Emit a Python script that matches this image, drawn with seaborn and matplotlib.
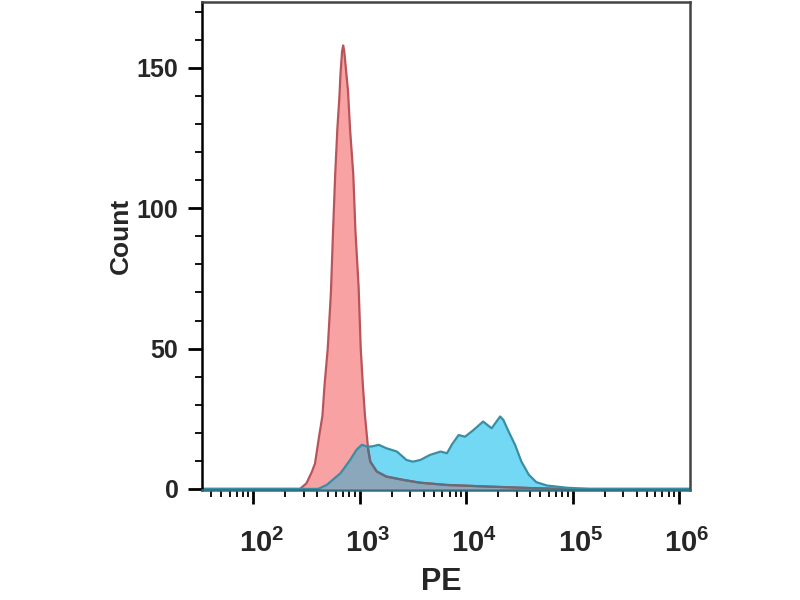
import numpy as np
import matplotlib
matplotlib.use("Agg")
import matplotlib.pyplot as plt
import matplotlib.ticker as mticker
import matplotlib.transforms as mtransforms
import seaborn as sns

# Histogram outlines: log10(PE) positions and counts
red_log = [1.50, 2.44, 2.47, 2.50, 2.55, 2.58, 2.60, 2.62, 2.65, 2.67, 2.70, 2.73, 2.75,
           2.77, 2.79, 2.81, 2.82, 2.835, 2.845, 2.855, 2.87, 2.89, 2.91, 2.94, 2.96, 2.99,
           3.01, 3.03, 3.05, 3.07, 3.08, 3.10, 3.16, 3.25, 3.41, 3.57, 3.82, 4.23,
           4.60, 4.88, 6.10]
red_count = [0, 0, 1, 2, 6, 9, 14, 19, 26, 37, 50, 70, 92,
             112, 128, 140, 148, 156, 158, 156, 150, 142, 128, 112, 92, 72,
             50, 37, 26, 18, 14, 9.7, 6.2, 4.4, 3.2, 2.2, 1.4, 0.8,
             0.3, 0, 0]

blue_log = [1.50, 2.61, 2.69, 2.82, 2.91, 2.97, 3.02, 3.07, 3.11, 3.18, 3.25, 3.35,
            3.44, 3.50, 3.57, 3.66, 3.76, 3.82, 3.87, 3.93, 3.99, 4.07, 4.16, 4.24,
            4.32, 4.35, 4.40, 4.46, 4.52, 4.59, 4.66, 4.76, 4.95, 5.16, 6.10]
blue_count = [0, 0, 1.4, 5.6, 10.3, 13.9, 15.7, 15.1, 15.1, 15.7, 14.5, 13.3,
              10.3, 9.7, 10.3, 12.1, 13.3, 12.7, 16, 19.2, 18.6, 21, 24, 21.6,
              25.8, 24.6, 20.4, 15.7, 9.7, 5, 2.4, 1.2, 0.4, 0, 0]

x_ticks = [1e2, 1e3, 1e4, 1e5, 1e6]
x_ticklabels = [r"$\mathbf{10^{2}}$", r"$\mathbf{10^{3}}$", r"$\mathbf{10^{4}}$",
                r"$\mathbf{10^{5}}$", r"$\mathbf{10^{6}}$"]
y_ticks = [0, 50, 100, 150]

red_pe = np.power(10.0, red_log)
blue_pe = np.power(10.0, blue_log)

sns.set_style("white")
plt.rcParams["font.family"] = ["Liberation Sans", "DejaVu Sans"]
plt.rcParams["mathtext.fontset"] = "custom"
plt.rcParams["mathtext.bf"] = "Liberation Sans:bold"
plt.rcParams["mathtext.rm"] = "Liberation Sans:bold"

fig = plt.figure(figsize=(8, 6), dpi=100)
ax = fig.add_axes([0.2525, 0.1833, 0.61, 0.8134])
ax.set_xscale("log")

# fills: cyan sample, pink control, and the grey overlap clipped to the cyan area
blue_fill = ax.fill_between(blue_pe, blue_count, color="#72d8f4", lw=0, zorder=1)
ax.fill_between(red_pe, red_count, color="#f8a2a4", lw=0, zorder=1.1)
overlap = ax.fill_between(red_pe, red_count, color="#8ba7bb", lw=0, zorder=1.2)
blue_path = blue_fill.get_paths()[0]
overlap.set_clip_path(blue_path, blue_fill.get_transform())

sns.lineplot(x=red_pe, y=red_count, ax=ax, color="#b9545a", lw=1.6, zorder=2)
# the control outline looks dark grey where it runs inside the cyan area
sns.lineplot(x=red_pe, y=red_count, ax=ax, color="#5d6f7e", lw=1.6, zorder=2.05)
ax.lines[-1].set_clip_path(blue_path, blue_fill.get_transform())
sns.lineplot(x=blue_pe, y=blue_count, ax=ax, color="#3a8ea3", lw=1.6, zorder=2.1)

ax.set_xlim(33, 1.27e6)
ax.set_ylim(-0.4, 173.5)

ax.set_xticks(x_ticks)
ax.set_xticklabels(x_ticklabels)
ax.xaxis.set_minor_locator(mticker.LogLocator(base=10, subs=np.arange(2, 10), numticks=20))
ax.xaxis.set_minor_formatter(mticker.NullFormatter())
ax.set_yticks(y_ticks)
ax.yaxis.set_minor_locator(mticker.MultipleLocator(10))

ax.tick_params(axis="both", which="major", direction="out", length=10, width=2,
               color="black", labelsize=18, bottom=True, left=True)
ax.tick_params(axis="both", which="minor", direction="out", length=5, width=1.3,
               color="black", bottom=True, left=True)
ax.tick_params(axis="x", which="major", pad=18, labelsize=21)
ax.tick_params(axis="y", which="major", pad=7)
for lab in ax.get_yticklabels():
    lab.set_fontweight("bold")

# centre the "10" on the tick, the exponent hangs to the right
shift = mtransforms.ScaledTranslation(0.08, 0, fig.dpi_scale_trans)
for lab in ax.get_xticklabels():
    lab.set_transform(lab.get_transform() + shift)

for side in ["top", "right", "bottom", "left"]:
    ax.spines[side].set_visible(True)
    ax.spines[side].set_linewidth(1.8)
ax.spines["top"].set_color("#444444")
ax.spines["right"].set_color("#444444")
ax.spines["left"].set_color("black")
ax.spines["bottom"].set_color("#2f6f80")

ax.set_xlabel("PE", fontsize=22, fontweight="bold")
ax.set_ylabel("Count", fontsize=19, fontweight="bold")
ax.xaxis.set_label_coords(0.49, -0.158)
ax.yaxis.set_label_coords(-0.141, 0.52)

fig.savefig("out.png", dpi=100)
